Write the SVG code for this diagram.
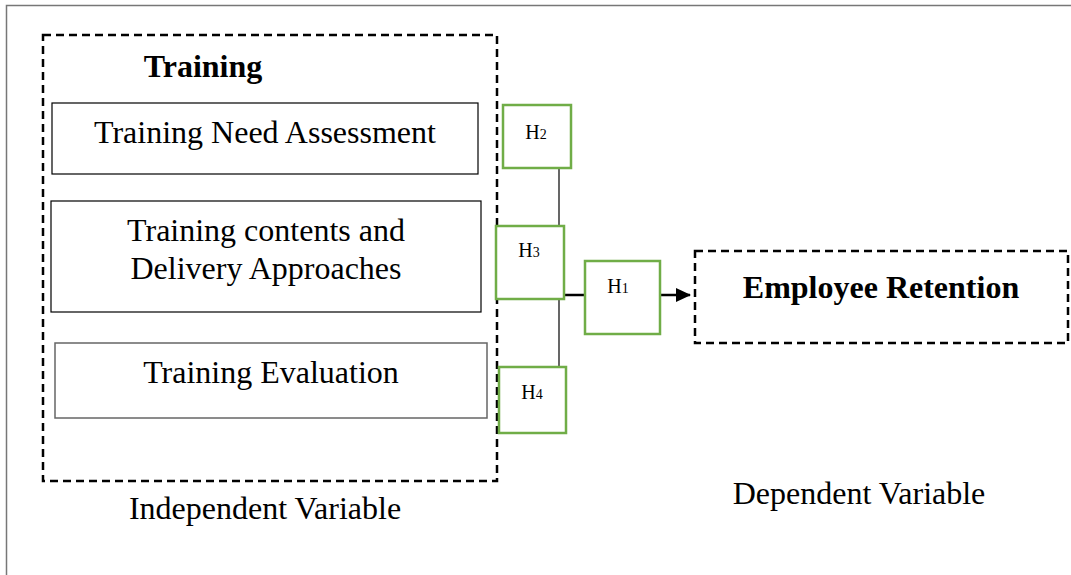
<svg xmlns="http://www.w3.org/2000/svg" width="1071" height="575" viewBox="0 0 1071 575">
<style>
text{font-family:"Liberation Serif","Times New Roman",serif;fill:#000}
.t{font-size:32px}
.b{font-size:32px;font-weight:bold}
.h{font-size:20px}
.s{font-size:14px}
.dash{fill:none;stroke:#000;stroke-width:2.5;stroke-dasharray:8 5}
.box{fill:#fff;stroke:#000;stroke-width:1.2}
.box2{fill:#fff;stroke:#666;stroke-width:1.5}
.g{fill:#fff;stroke:#70AD47;stroke-width:2.5}
</style>
<defs>
<marker id="arr" markerWidth="15" markerHeight="14" refX="14" refY="7" orient="auto" markerUnits="userSpaceOnUse">
<path d="M0,0 L15,7 L0,14 Z" fill="#000"/>
</marker>
</defs>
<rect width="1071" height="575" fill="#fff"/>
<path d="M6.5,575 V5.5 H1071" fill="none" stroke="#777" stroke-width="1.5"/>

<g id="training">
<rect class="dash" x="43" y="35" width="454" height="446"/>
<text class="b" x="203" y="77" text-anchor="middle">Training</text>
</g>
<g id="tna">
<rect class="box" x="52" y="103" width="426" height="71"/>
<text class="t" x="265" y="143" text-anchor="middle">Training Need Assessment</text>
</g>
<g id="contents">
<rect class="box" x="51" y="201" width="430" height="111"/>
<text class="t" x="266" y="241" text-anchor="middle">Training contents and</text>
<text class="t" x="266" y="279" text-anchor="middle">Delivery Approaches</text>
</g>
<g id="evaluation">
<rect class="box2" x="55" y="343" width="432" height="75"/>
<text class="t" x="271" y="383" text-anchor="middle">Training Evaluation</text>
</g>
<g id="indep-label">
<text class="t" x="265" y="519" text-anchor="middle">Independent Variable</text>
</g>

<g id="connectors" stroke="#000" fill="none">
<line x1="559" y1="168" x2="559" y2="226" stroke-width="1.2"/>
<line x1="559" y1="299" x2="559" y2="367" stroke-width="1.2"/>
<line x1="564" y1="295" x2="585" y2="295" stroke-width="2.5"/>
<line x1="660" y1="295" x2="690" y2="295" stroke-width="2.5" marker-end="url(#arr)"/>
</g>

<g id="h2">
<rect class="g" x="503" y="105" width="68" height="63"/>
<text class="h" x="536" y="139" text-anchor="middle">H<tspan class="s">2</tspan></text>
</g>
<g id="h3">
<rect class="g" x="496" y="226" width="68" height="73"/>
<text class="h" x="529" y="257" text-anchor="middle">H<tspan class="s">3</tspan></text>
</g>
<g id="h1">
<rect class="g" x="585" y="261" width="75" height="73"/>
<text class="h" x="618" y="293" text-anchor="middle">H<tspan class="s">1</tspan></text>
</g>
<g id="h4">
<rect class="g" x="499" y="367" width="67" height="66"/>
<text class="h" x="532" y="399" text-anchor="middle">H<tspan class="s">4</tspan></text>
</g>

<g id="retention">
<rect class="dash" x="695" y="251" width="373" height="92"/>
<text class="b" x="881" y="298" text-anchor="middle">Employee Retention</text>
</g>
<g id="dep-label">
<text class="t" x="859" y="504" text-anchor="middle">Dependent Variable</text>
</g>
</svg>
